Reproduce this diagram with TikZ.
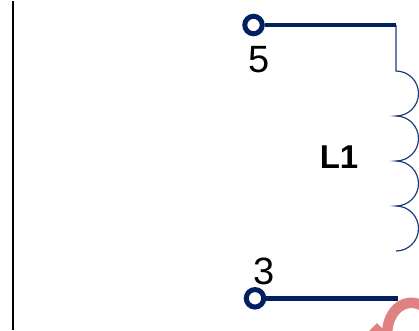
\documentclass[tikz,border=0pt]{standalone}
\usepackage{fontspec}
\setmainfont{Liberation Sans}
\usepackage{xcolor}
\definecolor{wirecol}{RGB}{0,32,96}
\definecolor{coilcol}{RGB}{30,60,125}
\definecolor{arccol}{RGB}{224,130,130}
\tikzset{
  wire/.style={draw=wirecol,line width=4.5pt},
  coil/.style={draw=coilcol,line width=1.2pt},
  terminal/.style={circle,draw=wirecol,line width=5pt,fill=white,minimum size=17.5pt,inner sep=0pt},
  pinlabel/.style={font=\fontsize{38}{38}\selectfont,inner sep=0pt},
}
\begin{document}
\begin{tikzpicture}[x=1pt,y=-1pt]
    \useasboundingbox (0,0) rectangle (419,330);
    \draw[line width=2pt] (13,1)--(13,330);

    % coil
    \coordinate (coiltop) at (396,71);
    \coordinate (corner) at (396,25);
    \coordinate (bottomend) at (398,298.3);
    \draw[coil] (corner)--(coiltop)
        arc[start angle=90,end angle=-90,radius=22.5pt]
        arc[start angle=90,end angle=-90,radius=22.5pt]
        arc[start angle=90,end angle=-90,radius=22.5pt]
        arc[start angle=90,end angle=-90,radius=22.5pt];

    % red mark
    \begin{scope}
        \clip (0,0) rectangle (419,330);
        \draw[draw=arccol,line width=10.5pt] (387,335) .. controls (387,312) and (403,297) .. (421,305);
        \fill[arccol] (369,331)--(377,323)--(385,331)--cycle;
    \end{scope}

    % terminals
    \node[terminal] (pinfive) at (253.5,25) {};
    \node[terminal] (pinthree) at (255,298.3) {};
    \draw[wire] (pinfive)--(corner);
    \draw[wire] (pinthree)--(bottomend);

    \node[pinlabel] (labelfive) at (259,60) {5};
    \node[pinlabel] (labelthree) at (264,271) {3};
    \node[font=\fontsize{33}{33}\selectfont\bfseries,inner sep=0pt] (labelcoil) at (339,157) {L1};
\end{tikzpicture}
\end{document}
